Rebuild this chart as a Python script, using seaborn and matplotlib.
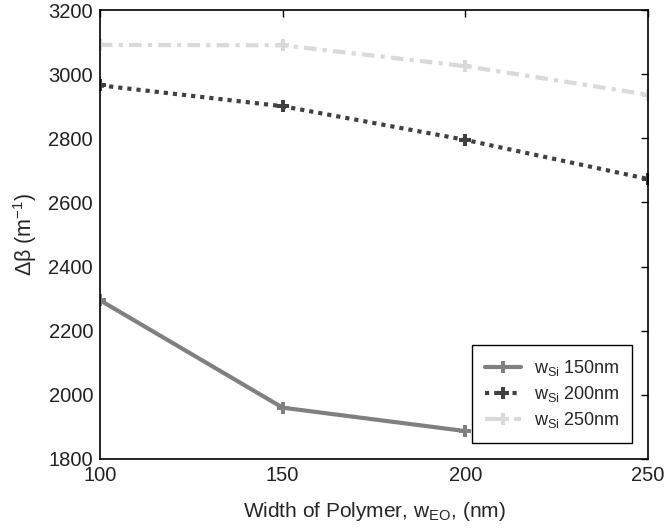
import numpy as np
import pandas as pd
import matplotlib
matplotlib.use("Agg")
import matplotlib.pyplot as plt
import seaborn as sns

widths = [100, 150, 200, 250]
ws150 = [2295, 1960, 1887, np.nan]
ws200 = [2965, 2900, 2795, 2673]
ws250 = [3091, 3090, 3025, 2936]
labels = [r"w$_{\mathregular{Si}}$ 150nm", r"w$_{\mathregular{Si}}$ 200nm", r"w$_{\mathregular{Si}}$ 250nm"]
xticks = [100, 150, 200, 250]
yticks = [1800, 2000, 2200, 2400, 2600, 2800, 3000, 3200]

sns.set_theme(style="white")
plt.rcParams["font.family"] = ["Liberation Sans", "DejaVu Sans"]
plt.rcParams["mathtext.fontset"] = "custom"
plt.rcParams["mathtext.rm"] = "Liberation Sans"
plt.rcParams["mathtext.it"] = "Liberation Sans"

fig = plt.figure(figsize=(6.64, 5.31), dpi=100)
ax = fig.add_axes([100/664, 1-459/531, 548/664, 449/531])

series = [
    (ws150, labels[0], "#808080", "-"),
    (ws200, labels[1], "#404040", (0, (1, 1.2))),
    (ws250, labels[2], "#d9d9d9", (0, (3, 1.5, 1, 1.5))),
]
for vals, lab, col, ls in series:
    df = pd.DataFrame({"x": widths, "y": vals}).dropna()
    sns.lineplot(data=df, x="x", y="y", ax=ax, color=col, linestyle=ls,
                 linewidth=3.0, marker="P", markersize=8, markeredgewidth=0,
                 label=lab)

ax.set_xlim(100, 250)
ax.set_ylim(1800, 3200)
ax.set_xticks(xticks)
ax.set_yticks(yticks)
ax.tick_params(direction="in", length=5, width=1, top=True, right=True,
               labelsize=14.5, colors="black", pad=5)
for t in ax.get_xticklabels() + ax.get_yticklabels():
    t.set_color("#222222")
for s in ax.spines.values():
    s.set_color("black")
    s.set_linewidth(1.2)
ax.set_xlabel(r"Width of Polymer, w$_{\mathregular{EO}}$, (nm)", fontsize=15, labelpad=11)
ax.set_ylabel(r"Δβ (m$^{\mathregular{-1}}$)", fontsize=15.5, labelpad=7)

leg = ax.legend(loc="lower right", bbox_to_anchor=(0.971, 0.036), fontsize=13,
                frameon=True, fancybox=False, framealpha=1, edgecolor="black",
                handlelength=2.0, handletextpad=0.7, borderpad=0.7,
                labelspacing=0.34, borderaxespad=0)
leg.get_frame().set_linewidth(1.0)

fig.savefig("out.png", dpi=100)
